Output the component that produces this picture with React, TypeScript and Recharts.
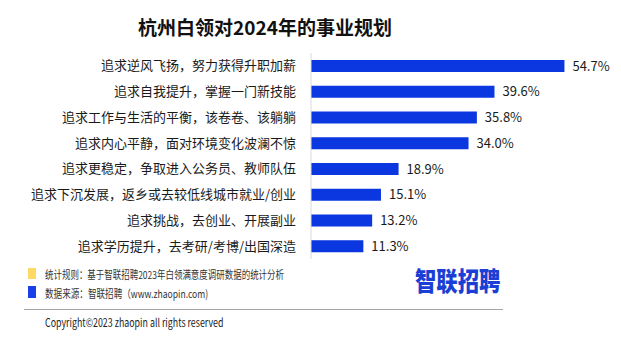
import React from 'react';
import { BarChart, Bar, XAxis, YAxis, LabelList } from 'recharts';

const categories = [
  '追求逆风飞扬，努力获得升职加薪',
  '追求自我提升，掌握一门新技能',
  '追求工作与生活的平衡，该卷卷、该躺躺',
  '追求内心平静，面对环境变化波澜不惊',
  '追求更稳定，争取进入公务员、教师队伍',
  '追求下沉发展，返乡或去较低线城市就业/创业',
  '追求挑战，去创业、开展副业',
  '追求学历提升，去考研/考博/出国深造',
];
const shares = [54.7, 39.6, 35.8, 34.0, 18.9, 15.1, 13.2, 11.3];

const title = '杭州白领对2024年的事业规划';
const ruleNote = '统计规则：基于智联招聘2023年白领满意度调研数据的统计分析';
const sourceNote = '数据来源：智联招聘（www.zhaopin.com)';
const copyright = 'Copyright©2023 zhaopin all rights reserved';

const FONT = '"Noto Sans CJK SC", "Noto Sans", sans-serif';
const BLUE = '#0a37e0';

const squeezed = (scale: number): React.CSSProperties => ({
  transform: `scaleX(${scale})`,
  transformOrigin: 'left center',
  whiteSpace: 'nowrap',
});

export default function App() {
  const data = categories.map((name, i) => ({ name, value: shares[i] }));

  return (
    <div
      style={{
        position: 'fixed',
        top: 0,
        left: 0,
        width: 621,
        height: 341,
        background: '#fff',
        fontFamily: FONT,
        overflow: 'hidden',
      }}
    >
      <div
        style={{
          position: 'absolute',
          top: 13,
          left: 0,
          width: 530,
          textAlign: 'center',
          fontSize: 19,
          fontWeight: 700,
          color: '#111',
          lineHeight: '28px',
        }}
      >
        {title}
      </div>

      <div style={{ position: 'absolute', top: 0, left: 0 }}>
        <BarChart
          width={621}
          height={341}
          data={data}
          layout="vertical"
          margin={{ top: 53, right: 32, bottom: 82, left: 0 }}
        >
          <XAxis type="number" domain={[0, 60]} hide />
          <YAxis
            type="category"
            dataKey="name"
            width={311}
            axisLine={{ stroke: '#d9d9d9' }}
            tickLine={false}
            tickMargin={9}
            interval={0}
            tick={{ fontSize: 13, fill: '#1a1a1a', fontFamily: FONT }}
          />
          <Bar dataKey="value" fill={BLUE} barSize={12} isAnimationActive={false}>
            <LabelList
              dataKey="value"
              position="right"
              offset={8}
              formatter={(v: number) => `${v.toFixed(1)}%`}
              style={{ fontSize: 13, fill: '#1a1a1a', fontFamily: FONT }}
            />
          </Bar>
        </BarChart>
      </div>

      <div style={{ position: 'absolute', left: 28, top: 268, width: 8, height: 11, background: '#ffd966' }} />
      <div
        style={{
          position: 'absolute',
          left: 45,
          top: 266,
          fontSize: 11,
          color: '#333',
          lineHeight: '16px',
          ...squeezed(0.77),
        }}
      >
        {ruleNote}
      </div>
      <div style={{ position: 'absolute', left: 28, top: 286, width: 8, height: 12, background: '#1a3fe8' }} />
      <div
        style={{
          position: 'absolute',
          left: 45,
          top: 285,
          fontSize: 11,
          color: '#333',
          lineHeight: '16px',
          ...squeezed(0.78),
        }}
      >
        {sourceNote}
      </div>

      <div
        style={{
          position: 'absolute',
          left: 415,
          top: 263,
          fontSize: 26,
          fontWeight: 900,
          color: '#1b3fd4',
          lineHeight: '34px',
          ...squeezed(0.82),
        }}
      >
        智联招聘
      </div>

      <div style={{ position: 'absolute', left: 24, top: 309, width: 479, height: 1, background: '#a6a6a6' }} />
      <div
        style={{
          position: 'absolute',
          left: 45,
          top: 314,
          fontSize: 11.5,
          color: '#222',
          lineHeight: '16px',
          ...squeezed(0.77),
        }}
      >
        {copyright}
      </div>
    </div>
  );
}
